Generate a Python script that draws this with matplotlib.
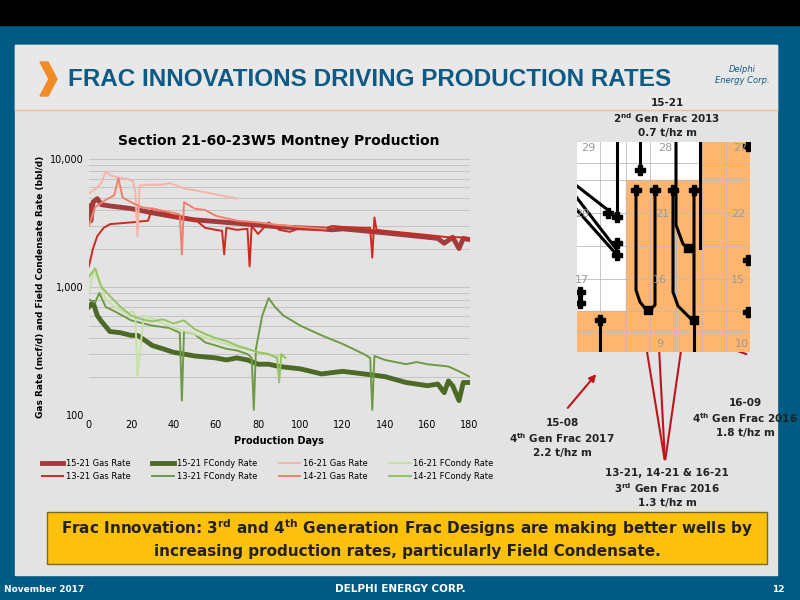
import matplotlib.pyplot as plt
from matplotlib.patches import Rectangle, Polygon

plt.rcParams['mathtext.default'] = 'bf'

# production data (day, rate)
g1521_d = [0, 1, 2, 4, 6, 10, 15, 20, 25, 30, 40, 50, 60, 70, 80, 90, 100, 110, 115, 120, 130, 140, 150, 160, 165, 168, 172, 175, 177, 180]
g1521_v = [4300, 3300, 4600, 4900, 4400, 4300, 4200, 4100, 3950, 3800, 3550, 3350, 3250, 3150, 3050, 2950, 2900, 2850, 2800, 2850, 2750, 2650, 2550, 2450, 2400, 2200, 2450, 2000, 2400, 2350]
g1321_d = [0, 2, 4, 7, 10, 20, 28, 30, 35, 40, 50, 55, 60, 63, 64, 65, 70, 75, 76, 77, 80, 85, 90, 95, 100, 110, 115, 120, 130, 133, 134, 135, 136, 140, 150, 160, 170, 175, 180]
g1321_v = [1450, 2000, 2500, 2900, 3100, 3200, 3300, 4100, 3900, 3600, 3400, 2900, 2800, 2750, 1800, 2900, 2800, 2850, 1450, 3000, 2600, 3200, 2800, 2700, 2900, 2800, 3000, 2950, 2900, 2900, 1700, 3500, 2800, 2750, 2650, 2550, 2450, 2450, 2400]
g1621_d = [0, 3, 6, 8, 10, 13, 18, 21, 22, 23, 24, 28, 35, 38, 45, 55, 62, 70]
g1621_v = [5400, 5800, 6500, 8000, 7500, 7200, 7000, 6700, 5500, 2500, 6200, 6300, 6300, 6500, 5900, 5500, 5200, 4900]
g1421_d = [0, 3, 8, 12, 14, 16, 20, 25, 30, 40, 43, 44, 45, 50, 55, 60, 70, 80, 90, 100, 112]
g1421_v = [3000, 4200, 4800, 5200, 7100, 5000, 4600, 4200, 4100, 3800, 3700, 1800, 4600, 4100, 4000, 3600, 3300, 3200, 3050, 2950, 2850]

c1521_d = [0, 2, 4, 6, 10, 15, 20, 23, 25, 30, 35, 40, 45, 50, 55, 60, 65, 70, 75, 80, 85, 90, 95, 100, 105, 110, 115, 120, 130, 140, 150, 160, 165, 168, 170, 172, 175, 177, 180]
c1521_v = [700, 760, 600, 540, 450, 440, 420, 420, 400, 350, 330, 310, 300, 290, 285, 280, 270, 280, 270, 250, 250, 240, 235, 230, 220, 210, 215, 220, 210, 200, 180, 170, 175, 150, 185, 170, 130, 180, 180]
c1321_d = [0, 3, 5, 8, 12, 20, 30, 38, 43, 44, 45, 50, 55, 60, 65, 70, 75, 77, 78, 79, 82, 85, 88, 92, 100, 110, 120, 130, 133, 134, 135, 140, 150, 155, 160, 170, 175, 180]
c1321_v = [800, 760, 900, 700, 650, 550, 500, 480, 440, 130, 450, 430, 370, 350, 330, 320, 300, 280, 110, 330, 600, 820, 700, 600, 500, 420, 360, 300, 280, 110, 290, 270, 250, 260, 250, 240, 220, 200]
c1621_d = [0, 2, 4, 8, 12, 18, 21, 22, 23, 26, 32, 40, 50, 60, 70, 80, 88, 92]
c1621_v = [900, 1300, 1200, 800, 700, 620, 650, 600, 200, 600, 550, 480, 430, 380, 340, 310, 290, 290]
c1421_d = [0, 3, 6, 10, 15, 20, 25, 30, 35, 40, 45, 50, 55, 60, 65, 70, 75, 80, 85, 89, 90, 91, 93]
c1421_v = [1200, 1400, 1000, 850, 700, 600, 560, 540, 560, 520, 550, 470, 430, 400, 380, 350, 330, 310, 300, 280, 180, 300, 280]

# listed in legend (column-major) order
series = [
    ('15-21 Gas Rate', g1521_d, g1521_v, '#a23b3b', 3.5),
    ('13-21 Gas Rate', g1321_d, g1321_v, '#cc2a1e', 1.4),
    ('15-21 FCondy Rate', c1521_d, c1521_v, '#4c6a26', 3.5),
    ('13-21 FCondy Rate', c1321_d, c1321_v, '#6e9a45', 1.4),
    ('16-21 Gas Rate', g1621_d, g1621_v, '#f7b3a5', 1.4),
    ('14-21 Gas Rate', g1421_d, g1421_v, '#f2806c', 1.4),
    ('16-21 FCondy Rate', c1621_d, c1621_v, '#c7e0a3', 1.4),
    ('14-21 FCondy Rate', c1421_d, c1421_v, '#94c462', 1.4),
]

fig = plt.figure(figsize=(8, 6), dpi=100)
fig.patch.set_facecolor('#005b84')
bg = fig.add_axes([0, 0, 1, 1])
bg.set_xlim(0, 800)
bg.set_ylim(600, 0)
bg.axis('off')
bg.add_patch(Rectangle((0, 0), 800, 25, color='black'))
bg.add_patch(Rectangle((15, 45), 762, 530, color='#e3e3e3'))
bg.add_patch(Rectangle((15, 45), 762, 65, color='#e8e8e8'))
bg.plot([15, 777], [110, 110], color='#f0bf90', lw=1)
bg.add_patch(Polygon([(40, 62), (48, 62), (57, 79), (48, 96), (40, 96), (49, 79)], color='#f28a25'))
bg.text(68, 79, 'FRAC INNOVATIONS DRIVING PRODUCTION RATES', color='#0d5a85',
        fontsize=17.5, fontweight='bold', va='center', family='Liberation Sans')
bg.text(742, 75, 'Delphi\nEnergy Corp.', color='#0d5a85', fontsize=6, style='italic', ha='center', va='center')
bg.add_patch(Rectangle((47, 512), 720, 52, facecolor='#fdc00d', edgecolor='#7a6a20', lw=1))
bg.text(407, 538, 'Frac Innovation: 3$^{rd}$ and 4$^{th}$ Generation Frac Designs are making better wells by\n'
        'increasing production rates, particularly Field Condensate.',
        ha='center', va='center', fontsize=11, fontweight='bold', color='#222222', linespacing=1.4)
bg.text(4, 589, 'November 2017', color='white', fontsize=6.5, fontweight='bold', va='center')
bg.text(400, 589, 'DELPHI ENERGY CORP.', color='white', fontsize=7.5, fontweight='bold', va='center', ha='center')
bg.text(785, 589, '12', color='white', fontsize=6.5, fontweight='bold', va='center', ha='right')

# map annotation texts
anno = dict(ha='center', va='center', fontsize=7.5, fontweight='bold', color='#222222', linespacing=1.3)
bg.text(667, 118, '15-21\n2$^{nd}$ Gen Frac 2013\n0.7 t/hz m', **anno)
bg.text(562, 438, '15-08\n4$^{th}$ Gen Frac 2017\n2.2 t/hz m', **anno)
bg.text(667, 488, '13-21, 14-21 & 16-21\n3$^{rd}$ Gen Frac 2016\n1.3 t/hz m', **anno)
bg.text(745, 418, '16-09\n4$^{th}$ Gen Frac 2016\n1.8 t/hz m', **anno)

# chart
ax = fig.add_axes([0.111, 0.308, 0.476, 0.427])
ax.set_facecolor('#e3e3e3')
for name, d, v, c, lw in series:
    ax.plot(d, v, color=c, lw=lw, label=name)
ax.set_yscale('log')
ax.set_xlim(0, 180)
ax.set_ylim(100, 10000)
ax.set_xticks(range(0, 181, 20))
ax.set_yticks([100, 1000, 10000])
ax.set_yticklabels(['100', '1,000', '10,000'])
ax.yaxis.set_minor_formatter(plt.NullFormatter())
ax.grid(True, which='both', axis='y', color='#c4c4c4', lw=0.7)
ax.tick_params(which='both', labelsize=7, length=0)
for s in ax.spines.values():
    s.set_visible(False)
ax.set_title('Section 21-60-23W5 Montney Production', fontsize=10, fontweight='bold', pad=10)
ax.set_xlabel('Production Days', fontsize=7, fontweight='bold')
ax.set_ylabel('Gas Rate (mcf/d) and Field Condensate Rate (bbl/d)', fontsize=6.5, fontweight='bold')
ax.legend(loc='upper center', bbox_to_anchor=(0.47, -0.14), ncol=4, frameon=False,
          fontsize=6, handlelength=2.6, handletextpad=0.3, columnspacing=2.6)

# map
m = fig.add_axes([577 / 800, 1 - 352 / 600, 173 / 800, 210 / 600])
m.set_xlim(577, 750)
m.set_ylim(352, 142)
m.axis('off')
org = '#fdb56f'
m.add_patch(Rectangle((577, 142), 173, 210, color='white'))
m.add_patch(Rectangle((626, 180), 124, 172, color=org))
m.add_patch(Rectangle((702, 142), 48, 210, color=org))
m.add_patch(Rectangle((577, 311), 173, 41, color=org))
for x in [600, 626, 650, 676, 702, 726]:
    m.plot([x, x], [142, 352], color='#bbbbbb', lw=0.6)
for y in [163, 180, 213, 246, 279, 311, 332]:
    m.plot([577, 750], [y, y], color='#bbbbbb', lw=0.6)
for x, y, t in [(588, 148, '29'), (665, 148, '28'), (740, 148, '27'), (582, 214, '20'), (662, 214, '21'),
                (738, 214, '22'), (582, 280, '17'), (660, 280, '16'), (738, 280, '15'), (660, 344, '9'), (742, 344, '10')]:
    m.text(x, y, t, fontsize=8, color='#999999', ha='center', va='center')
wl = dict(color='black', lw=2.2)
m.plot([636, 636, 640, 648, 655, 655], [190, 290, 302, 312, 305, 188], **wl)
m.plot([673, 673, 678, 692, 694, 694], [188, 292, 306, 320, 320, 190], **wl)
m.plot([694, 694], [320, 352], **wl)
m.plot([640, 640], [142, 170], **wl)
m.plot([617, 617], [142, 215], **wl)
m.plot([676, 676, 683, 688], [142, 225, 244, 248], **wl)
m.plot([700, 700], [142, 248], **wl)
m.plot([577, 613], [186, 214], **wl)
m.plot([577, 617], [198, 250], **wl)
m.plot([577, 617], [210, 255], **wl)
m.plot([600, 600], [320, 352], **wl)
for x, y in [(640, 170), (636, 190), (655, 190), (673, 190), (694, 190), (608, 213), (617, 217),
             (617, 243), (617, 255), (600, 320), (580, 292), (580, 303), (748, 312), (748, 260), (748, 146)]:
    m.plot(x, y, marker='P', color='black', ms=7)
for x, y in [(648, 310), (694, 320), (688, 248)]:
    m.plot(x, y, marker='s', color='black', ms=6)

# arrows
ar = dict(arrowstyle='-|>', color='#c0141b', lw=1.5, mutation_scale=10)
bg.annotate('', xy=(673, 186), xytext=(665, 140), arrowprops=ar)
bg.annotate('', xy=(598, 372), xytext=(566, 410), arrowprops=ar)
bg.annotate('', xy=(694, 336), xytext=(749, 355), arrowprops=ar)
for tx, ty in [(640, 309), (657, 309), (690, 288)]:
    bg.annotate('', xy=(tx, ty), xytext=(665, 462), arrowprops=ar)

fig.savefig('out.png', dpi=100, facecolor=fig.get_facecolor())
